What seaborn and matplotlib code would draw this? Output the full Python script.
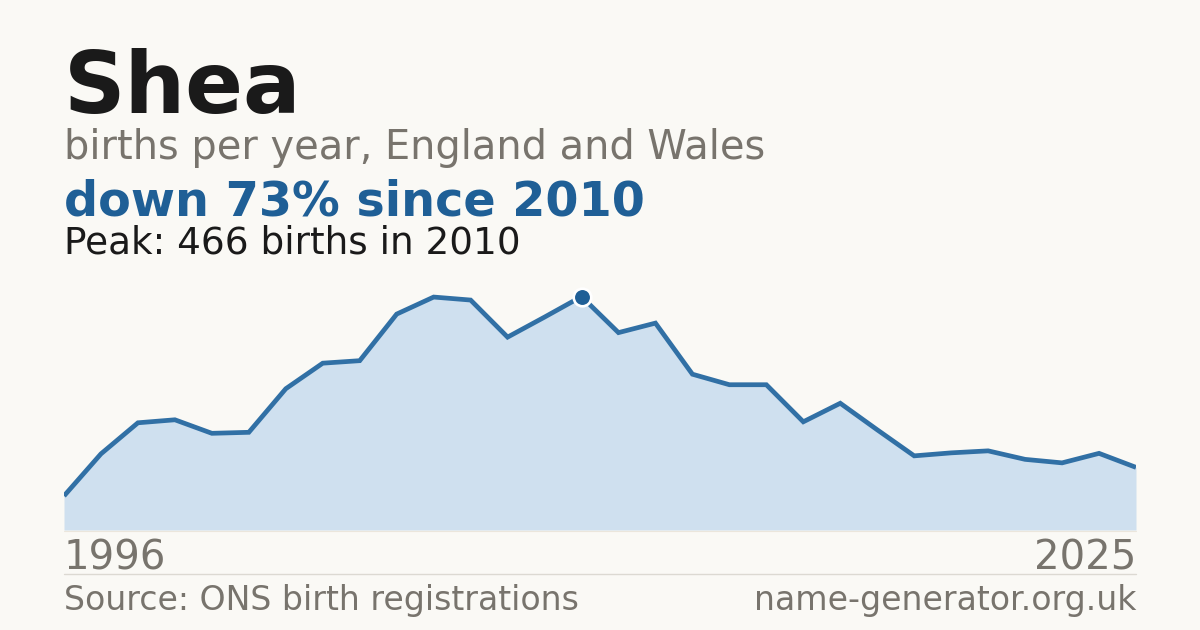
import matplotlib
matplotlib.use("Agg")
import matplotlib.pyplot as plt
import seaborn as sns
import pandas as pd
from matplotlib.lines import Line2D

years = list(range(1996, 2026))
births = [68, 152, 214, 220, 193, 195, 282, 333, 338, 431,
          465, 459, 385, 425, 466, 394, 413, 311, 290, 290,
          216, 253, 200, 148, 154, 158, 141, 134, 153, 125]

title = "Shea"
subtitle = "births per year, England and Wales"
headline = "down 73% since 2010"
peak_text = "Peak: 466 births in 2010"
start_label = "1996"
end_label = "2025"
source_text = "Source: ONS birth registrations"
site_text = "name-generator.org.uk"
peak_year = 2010
peak_value = 466

BG = "#faf9f5"
DARK = "#1a1a1a"
GREY = "#78746d"
BLUE = "#1f5f96"
LINE = "#3170a5"
FILL = "#cfe0ef"

sns.set_theme(style="white")
plt.rcParams['font.family'] = ['DejaVu Sans']

W, H = 1200, 630
fig = plt.figure(figsize=(12, 6.3), dpi=100, facecolor=BG)

ax_top, ax_bot = 270, 530
ax = fig.add_axes([64 / W, (H - ax_bot) / H, 1072 / W, (ax_bot - ax_top) / H])
ax.set_facecolor(BG)

df = pd.DataFrame({"year": years, "births": births})
ax.fill_between(df["year"], 0, df["births"], color=FILL, linewidth=0, zorder=1)
sns.lineplot(data=df, x="year", y="births", ax=ax, color=LINE, linewidth=3.4,
             solid_joinstyle="miter", solid_capstyle="butt", zorder=2)
ax.scatter([peak_year], [peak_value], s=160, color=BLUE, edgecolor="white",
           linewidth=1.9, zorder=4, clip_on=False)

ax.set_xlim(1996, 2025)
ax.set_ylim(0, 519)
ax.axis("off")


def ftext(x, y, s, **kw):
    fig.text(x / W, 1 - y / H, s, va="baseline", **kw)


ftext(64, 113, title, fontsize=61.5, fontweight="bold", color=DARK)
ftext(64, 159, subtitle, fontsize=28.7, color=GREY)
ftext(64, 215, headline, fontsize=34.4, fontweight="bold", color=BLUE)
ftext(64, 253, peak_text, fontsize=26.9, color=DARK)
ftext(64, 570, start_label, fontsize=28.9, color=GREY)
ftext(1136, 570, end_label, fontsize=28.9, color=GREY, ha="right")
ftext(64, 610, source_text, fontsize=23.9, color=GREY)
ftext(1136, 610, site_text, fontsize=23.9, color=GREY, ha="right")

fig.add_artist(Line2D([64 / W, 1136 / W], [1 - 573.5 / H, 1 - 573.5 / H],
                      color="#dcd9d2", linewidth=1, transform=fig.transFigure))
fig.add_artist(Line2D([64 / W, 1136 / W], [1 - 530.5 / H, 1 - 530.5 / H],
                      color="#ebe6dc", linewidth=0.8, transform=fig.transFigure))

fig.savefig("out.png", dpi=100, facecolor=BG)
